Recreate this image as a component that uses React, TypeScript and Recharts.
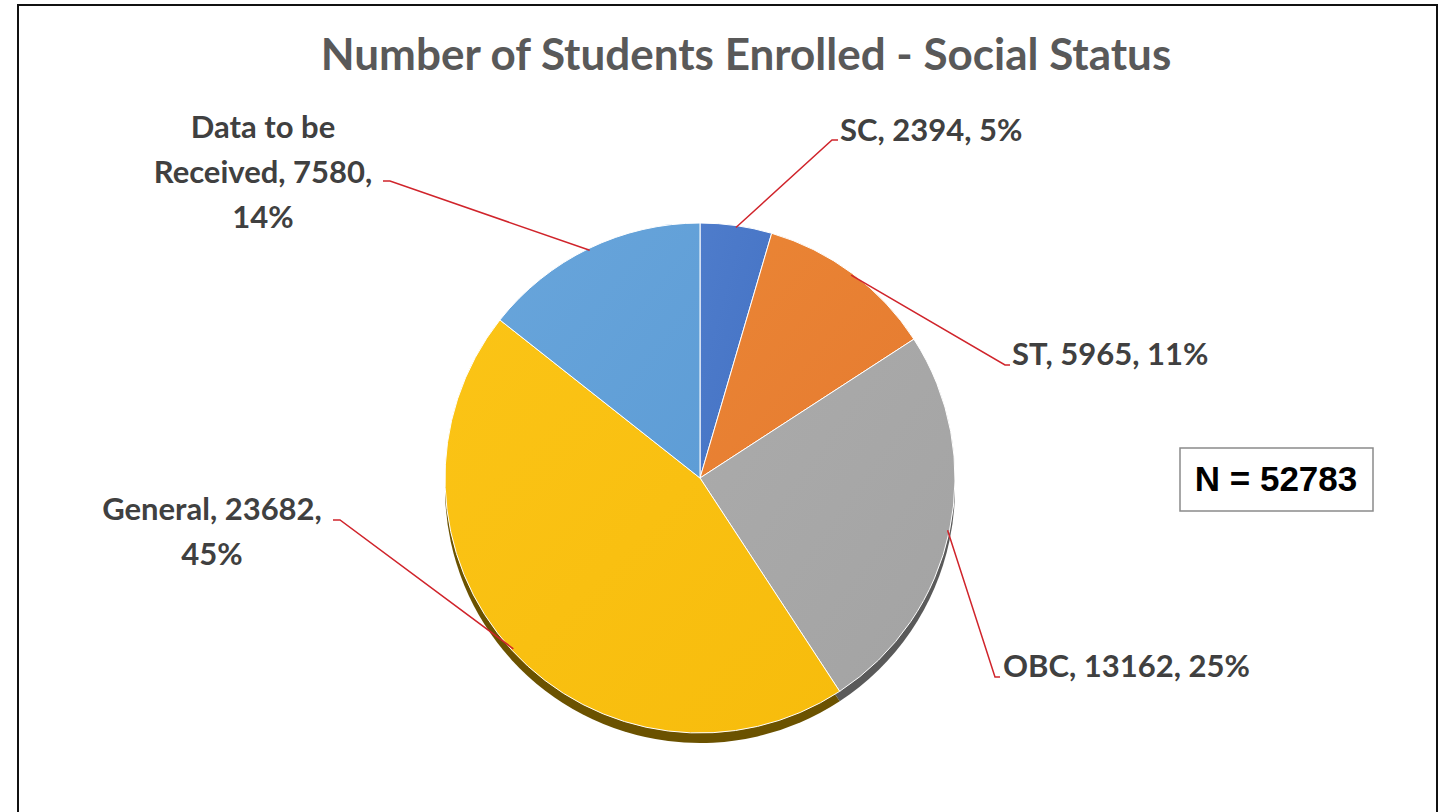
import React from 'react';
import { PieChart, Pie, Cell } from 'recharts';

const categories = ['SC', 'ST', 'OBC', 'General', 'Data to be Received'];
const students = [2394, 5965, 13162, 23682, 7580];
const total = 52783;

const sliceColors = ['#4472C4', '#E67B30', '#A3A3A3', '#F7BC0C', '#5E9DD6'];
const sliceLight = ['#4E7CCB', '#EA8535', '#ABABAB', '#FBC416', '#68A5DB'];
const shadowColors = ['#2a4a80', '#8a4a1a', '#5a5a5a', '#6b5200', '#3a6590'];

const data = categories.map((name, i) => ({ name, value: students[i] }));

// label layout (text lines, anchor, position, elbow of leader line)
const labelLayout = [
  { lines: (n: string, v: number, p: string) => [`${n}, ${v}, ${p}`], anchor: 'start', x: 840, y: 141, elbow: [832, 140], end: [838, 140] },
  { lines: (n: string, v: number, p: string) => [`${n}, ${v}, ${p}`], anchor: 'start', x: 1012, y: 365, elbow: [1005, 365], end: [1010, 365] },
  { lines: (n: string, v: number, p: string) => [`${n}, ${v}, ${p}`], anchor: 'start', x: 1003, y: 677, elbow: [995, 677], end: [1000, 677] },
  { lines: (n: string, v: number, p: string) => [`${n}, ${v},`, p], anchor: 'middle', x: 212, y: 520, elbow: [340, 520], end: [333, 520] },
  { lines: (_n: string, v: number, p: string) => ['Data to be', `Received, ${v},`, p], anchor: 'middle', x: 263, y: 138, elbow: [390, 181], end: [383, 181] },
];

const RAD = Math.PI / 180;

const renderLabel = (props: any) => {
  const { cx, cy, midAngle, outerRadius, index, name, value } = props;
  const lay = labelLayout[index];
  const sx = cx + (outerRadius - 2) * Math.cos(-midAngle * RAD);
  const sy = cy + (outerRadius - 2) * Math.sin(-midAngle * RAD);
  const pct = `${Math.round((value / total) * 100)}%`;
  const lines = lay.lines(name, value, pct);
  return (
    <g key={`lbl-${index}`}>
      <polyline
        points={`${sx},${sy} ${lay.elbow[0]},${lay.elbow[1]} ${lay.end[0]},${lay.end[1]}`}
        fill="none"
        stroke="#D0242B"
        strokeWidth={1.5}
      />
      <text
        x={lay.x}
        y={lay.y}
        textAnchor={lay.anchor as any}
        fill="#404040"
        fontFamily="Lato, 'Open Sans', sans-serif"
        fontWeight={700}
        fontSize={31}
      >
        {lines.map((t, i) => (
          <tspan key={i} x={lay.x} dy={i === 0 ? 0 : 45}>
            {t}
          </tspan>
        ))}
      </text>
    </g>
  );
};

export default function App() {
  return (
    <div style={{ position: 'fixed', left: 0, top: 0, width: 1450, height: 812, background: '#fff', overflow: 'hidden' }}>
      <div
        style={{
          position: 'absolute',
          left: 17,
          top: 4,
          width: 1421,
          height: 840,
          border: '2px solid #111',
          boxSizing: 'border-box',
        }}
      />
      <div style={{ position: 'absolute', left: 0, top: 0 }}>
        <PieChart width={1450} height={812} margin={{ top: 0, right: 0, bottom: 0, left: 0 }}>
          <defs>
            {sliceColors.map((c, i) => (
              <linearGradient key={i} id={`grad${i}`} x1="0" y1="0" x2="1" y2="1">
                <stop offset="0%" stopColor={sliceLight[i]} />
                <stop offset="100%" stopColor={c} />
              </linearGradient>
            ))}
          </defs>
          <text
            x={746}
            y={70}
            textAnchor="middle"
            fill="#595959"
            fontFamily="Lato, 'Open Sans', sans-serif"
            fontWeight={700}
            fontSize={44}
          >
            Number of Students Enrolled - Social Status
          </text>
          <Pie
            data={data}
            dataKey="value"
            nameKey="name"
            cx={700}
            cy={488}
            outerRadius={255}
            startAngle={90}
            endAngle={-270}
            stroke="none"
            isAnimationActive={false}
            label={false}
            labelLine={false}
          >
            {data.map((d, i) => (
              <Cell key={d.name} fill={shadowColors[i]} />
            ))}
          </Pie>
          <Pie
            data={data}
            dataKey="value"
            nameKey="name"
            cx={700}
            cy={478}
            outerRadius={255}
            startAngle={90}
            endAngle={-270}
            stroke="#ffffff"
            strokeWidth={1}
            isAnimationActive={false}
            label={renderLabel}
            labelLine={false}
          >
            {data.map((d, i) => (
              <Cell key={d.name} fill={`url(#grad${i})`} />
            ))}
          </Pie>
          <rect x={1180} y={448} width={193} height={63} fill="#fff" stroke="#8a8a8a" strokeWidth={1.5} />
          <text
            x={1276}
            y={491}
            textAnchor="middle"
            fill="#000"
            fontFamily="'Liberation Sans', Arial, sans-serif"
            fontWeight={700}
            fontSize={35}
          >
            N = 52783
          </text>
        </PieChart>
      </div>
    </div>
  );
}
